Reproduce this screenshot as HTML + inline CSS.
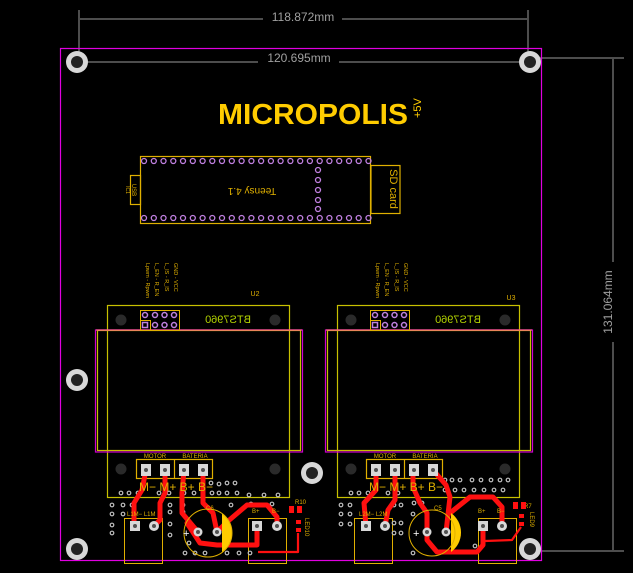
<!DOCTYPE html>
<html><head><meta charset="utf-8"><style>
html,body{margin:0;padding:0;background:#000;}
svg{display:block;}
text{font-family:"Liberation Sans",sans-serif;}
</style></head><body>
<svg width="633" height="573" viewBox="0 0 633 573" xmlns="http://www.w3.org/2000/svg">
<rect width="633" height="573" fill="#000"/>
<!-- dimensions -->
<g stroke="#9a9a9a" stroke-width="1" fill="none">
<line x1="79" y1="10" x2="79" y2="62"/><line x1="528" y1="10" x2="528" y2="62"/>
<line x1="80" y1="19" x2="263" y2="19"/><line x1="342" y1="19" x2="527" y2="19"/>
<line x1="78" y1="62" x2="258" y2="62"/><line x1="339" y1="62" x2="528" y2="62"/>
<line x1="532" y1="58" x2="624" y2="58"/><line x1="532" y1="551" x2="624" y2="551"/>
<line x1="613" y1="59" x2="613" y2="262"/><line x1="613" y1="342" x2="613" y2="550"/>
</g>
<text x="303" y="21" fill="#a0a0a0" font-size="12" text-anchor="middle">118.872mm</text>
<text x="299" y="62" fill="#a0a0a0" font-size="12" text-anchor="middle">120.695mm</text>
<text transform="translate(612,302) rotate(-90)" fill="#a0a0a0" font-size="12" text-anchor="middle">131.064mm</text>
<!-- board outline -->
<rect x="60.5" y="48.5" width="481" height="512" fill="none" stroke="#e000e0" stroke-width="1.2"/>
<!-- mounting holes -->
<g fill="#d8d8d8"><circle cx="77" cy="62" r="11"/><circle cx="530" cy="62" r="11"/><circle cx="77" cy="380" r="11"/><circle cx="312" cy="473" r="11"/><circle cx="77" cy="549" r="11"/><circle cx="530" cy="549" r="11"/></g>
<g fill="#222"><circle cx="77" cy="62" r="6"/><circle cx="530" cy="62" r="6"/><circle cx="77" cy="380" r="6"/><circle cx="312" cy="473" r="6"/><circle cx="77" cy="549" r="6"/><circle cx="530" cy="549" r="6"/></g>
<!-- logo -->
<text x="313" y="124" fill="#ffcc00" font-size="29" font-weight="bold" text-anchor="middle" textLength="190" lengthAdjust="spacingAndGlyphs">MICROPOLIS</text>
<text transform="translate(421,118) rotate(-90)" fill="#ffcc00" font-size="11">+5V</text>
<!-- Teensy -->
<g fill="none" stroke="#e0b000" stroke-width="1.2">
<rect x="140.5" y="156.5" width="230" height="67"/>
<rect x="371" y="165.5" width="29" height="48"/>
<rect x="130.5" y="175.5" width="10" height="29"/>
</g>
<g fill="none" stroke="#c080e0" stroke-width="1.3" id="trow">
<circle cx="144" cy="161" r="2.5"/><circle cx="153.8" cy="161" r="2.5"/><circle cx="163.5" cy="161" r="2.5"/><circle cx="173.3" cy="161" r="2.5"/><circle cx="183" cy="161" r="2.5"/><circle cx="192.8" cy="161" r="2.5"/><circle cx="202.6" cy="161" r="2.5"/><circle cx="212.3" cy="161" r="2.5"/><circle cx="222" cy="161" r="2.5"/><circle cx="231.8" cy="161" r="2.5"/><circle cx="241.6" cy="161" r="2.5"/><circle cx="251.4" cy="161" r="2.5"/><circle cx="261.1" cy="161" r="2.5"/><circle cx="270.9" cy="161" r="2.5"/><circle cx="280.6" cy="161" r="2.5"/><circle cx="290.4" cy="161" r="2.5"/><circle cx="300.2" cy="161" r="2.5"/><circle cx="309.9" cy="161" r="2.5"/><circle cx="319.7" cy="161" r="2.5"/><circle cx="329.4" cy="161" r="2.5"/><circle cx="339.2" cy="161" r="2.5"/><circle cx="349" cy="161" r="2.5"/><circle cx="358.7" cy="161" r="2.5"/><circle cx="368.5" cy="161" r="2.5"/>
</g>
<use href="#trow" y="57"/>
<g fill="none" stroke="#c080e0" stroke-width="1.3">
<circle cx="318" cy="170" r="2.5"/><circle cx="318" cy="180" r="2.5"/><circle cx="318" cy="190" r="2.5"/><circle cx="318" cy="200" r="2.5"/><circle cx="318" cy="209" r="2.5"/>
</g>
<text transform="translate(252,188) rotate(180)" fill="#e0b000" font-size="10" text-anchor="middle">Teensy 4.1</text>
<text transform="translate(390,189) rotate(90)" fill="#e0b000" font-size="11" text-anchor="middle">SD card</text>
<text transform="translate(132,190) rotate(90)" fill="#e0b000" font-size="6" text-anchor="middle">USB</text>
<text transform="translate(126,190) rotate(90)" fill="#e0b000" font-size="5" text-anchor="middle">IC1</text>

<!-- Module U2 -->
<g id="mod">
<rect x="107.5" y="305.5" width="182" height="192" fill="none" stroke="#c8c000" stroke-width="1.2"/>
<rect x="95.5" y="330" width="207" height="122" fill="none" stroke="#d000d0" stroke-width="1.2"/>
<rect x="97.5" y="330.5" width="203" height="120" fill="none" stroke="#c8c000" stroke-width="1.2"/>
<line x1="96" y1="330" x2="302" y2="330" stroke="#ff6090" stroke-width="1.2"/>
<circle cx="121" cy="320" r="5.5" fill="#2a2a2a"/><circle cx="275" cy="320" r="5.5" fill="#2a2a2a"/>
<circle cx="121" cy="469" r="5.5" fill="#2a2a2a"/><circle cx="275" cy="469" r="5.5" fill="#2a2a2a"/>
<rect x="140.5" y="310.5" width="39" height="20" fill="none" stroke="#e0b000" stroke-width="1"/>
<rect x="140.5" y="320.5" width="10" height="10" fill="none" stroke="#e0b000" stroke-width="1"/>
<g fill="none" stroke="#c080e0" stroke-width="1.5"><circle cx="145" cy="315" r="2.5"/><circle cx="155" cy="315" r="2.5"/><circle cx="164.5" cy="315" r="2.5"/><circle cx="174" cy="315" r="2.5"/><circle cx="155" cy="325" r="2.5"/><circle cx="164.5" cy="325" r="2.5"/><circle cx="174" cy="325" r="2.5"/><rect x="142.5" y="322.5" width="5" height="5"/></g>
<text transform="translate(228,323) scale(-1,1)" fill="#b0d000" font-size="11" text-anchor="middle">BTS7960</text>
<g fill="#e0b000" font-size="5.5">
<text transform="translate(146,263) rotate(90)">Lpwm - Rpwm</text>
<text transform="translate(155,263) rotate(90)">L_EN - R_EN</text>
<text transform="translate(165,263) rotate(90)">L_IS - R_IS</text>
<text transform="translate(174,263) rotate(90)">GND - VCC</text>
</g>
<!-- terminal -->
<rect x="136.5" y="459.5" width="76" height="19" fill="none" stroke="#e0b000" stroke-width="1.2"/>
<line x1="174.5" y1="459" x2="174.5" y2="479" stroke="#e0b000" stroke-width="1.2"/>
<text x="155" y="458" fill="#e0b000" font-size="6" text-anchor="middle">MOTOR</text>
<text x="195" y="458" fill="#e0b000" font-size="6" text-anchor="middle">BATERIA</text>
<!-- bottom connectors -->
<rect x="124.5" y="518.5" width="38" height="45" fill="none" stroke="#e0b000" stroke-width="1"/>
<rect x="248.5" y="518.5" width="38" height="45" fill="none" stroke="#e0b000" stroke-width="1"/>
</g>
<use href="#mod" x="230"/>
<text x="255" y="296" fill="#e0b000" font-size="7" text-anchor="middle">U2</text>
<text x="511" y="300" fill="#e0b000" font-size="7" text-anchor="middle">U3</text>

<!-- vias -->
<g fill="none" stroke="#bdbdbd" stroke-width="1.2">
<circle cx="121" cy="493" r="1.8"/><circle cx="129" cy="493" r="1.8"/><circle cx="138" cy="493" r="1.8"/><circle cx="159" cy="493" r="1.8"/><circle cx="169" cy="493" r="1.8"/><circle cx="184" cy="493" r="1.8"/><circle cx="194" cy="493" r="1.8"/><circle cx="212" cy="493" r="1.8"/><circle cx="219" cy="493" r="1.8"/><circle cx="227" cy="493" r="1.8"/><circle cx="237" cy="493" r="1.8"/><circle cx="249" cy="495" r="1.8"/><circle cx="264" cy="495" r="1.8"/><circle cx="278" cy="495" r="1.8"/>
<circle cx="211" cy="483" r="1.8"/><circle cx="219" cy="484" r="1.8"/><circle cx="227" cy="483" r="1.8"/><circle cx="235" cy="483" r="1.8"/>
<circle cx="112" cy="505" r="1.8"/><circle cx="123" cy="505" r="1.8"/><circle cx="132" cy="505" r="1.8"/><circle cx="112" cy="514" r="1.8"/><circle cx="123" cy="514" r="1.8"/><circle cx="112" cy="525" r="1.8"/><circle cx="112" cy="533" r="1.8"/>
<circle cx="170" cy="505" r="1.8"/><circle cx="170" cy="512" r="1.8"/><circle cx="170" cy="524" r="1.8"/><circle cx="170" cy="535" r="1.8"/><circle cx="183" cy="505" r="1.8"/><circle cx="183" cy="512" r="1.8"/>
<circle cx="231" cy="505" r="1.8"/><circle cx="251" cy="504" r="1.8"/><circle cx="272" cy="504" r="1.8"/>
<circle cx="185" cy="553" r="1.8"/><circle cx="195" cy="553" r="1.8"/><circle cx="205" cy="553" r="1.8"/><circle cx="227" cy="553" r="1.8"/><circle cx="239" cy="553" r="1.8"/><circle cx="250" cy="553" r="1.8"/><circle cx="189" cy="543" r="1.8"/>
<circle cx="351" cy="493" r="1.8"/><circle cx="359" cy="493" r="1.8"/><circle cx="368" cy="493" r="1.8"/><circle cx="388" cy="493" r="1.8"/><circle cx="398" cy="493" r="1.8"/><circle cx="445" cy="480" r="1.8"/><circle cx="452" cy="480" r="1.8"/><circle cx="460" cy="480" r="1.8"/><circle cx="472" cy="480" r="1.8"/><circle cx="481" cy="480" r="1.8"/><circle cx="491" cy="480" r="1.8"/><circle cx="500" cy="480" r="1.8"/><circle cx="508" cy="480" r="1.8"/>
<circle cx="445" cy="490" r="1.8"/><circle cx="455" cy="490" r="1.8"/><circle cx="464" cy="490" r="1.8"/><circle cx="474" cy="490" r="1.8"/><circle cx="484" cy="490" r="1.8"/><circle cx="494" cy="490" r="1.8"/><circle cx="503" cy="490" r="1.8"/>
<circle cx="341" cy="505" r="1.8"/><circle cx="350" cy="505" r="1.8"/><circle cx="341" cy="514" r="1.8"/><circle cx="350" cy="514" r="1.8"/><circle cx="341" cy="524" r="1.8"/><circle cx="350" cy="524" r="1.8"/>
<circle cx="394" cy="505" r="1.8"/><circle cx="401" cy="505" r="1.8"/><circle cx="394" cy="523" r="1.8"/><circle cx="401" cy="523" r="1.8"/><circle cx="394" cy="533" r="1.8"/><circle cx="401" cy="533" r="1.8"/>
<circle cx="414" cy="503" r="1.8"/><circle cx="422" cy="503" r="1.8"/><circle cx="413" cy="514" r="1.8"/><circle cx="413" cy="553" r="1.8"/><circle cx="475" cy="546" r="1.8"/><circle cx="483" cy="541" r="1.8"/>
</g>

<!-- traces -->
<g fill="none" stroke="#ff1010" stroke-width="5" stroke-linejoin="round" stroke-linecap="round">
<polyline points="146,470 142,490 134,503 134,526"/>
<polyline points="165,470 165,493 160,503 160,520 154,526"/>
<polyline points="184,470 182,493 182,513 198,532"/>
<polyline points="187,523 200,543 217,545 257,545 257,527"/>
<polyline points="203,470 203,503 213,513 217,532"/>
<polyline points="217,532 227,522 247,505 267,505 277,517 277,526"/>
<polyline points="376,470 376,490 364,503 366,526"/>
<polyline points="395,470 395,500 388,510 385,526"/>
<polyline points="413,470 413,487 420,503 427,513 427,540 437,552 477,552 483,545 483,526"/>
<polyline points="433,470 446,485 450,497 446,532"/>
<polyline points="450,513 470,497 493,497 502,507 502,526"/>
</g>
<g fill="none" stroke="#ff1010" stroke-width="2.2" stroke-linejoin="round">
<polyline points="258,552 298,552 298,533"/>
<polyline points="521,527 512,540 485,541"/>
</g>
<!-- pads -->
<g fill="#d8d8d8">
<rect x="141" y="464" width="10" height="12"/><rect x="160" y="464" width="10" height="12"/><rect x="179" y="464" width="10" height="12"/><rect x="198" y="464" width="10" height="12"/>
<rect x="371" y="464" width="10" height="12"/><rect x="390" y="464" width="10" height="12"/><rect x="409" y="464" width="10" height="12"/><rect x="428" y="464" width="10" height="12"/>
<rect x="130" y="521" width="10" height="10"/><rect x="252" y="521" width="10" height="10"/><rect x="361" y="521" width="10" height="10"/><rect x="478" y="521" width="10" height="10"/>
<circle cx="154" cy="526" r="5"/><circle cx="277" cy="526" r="5"/><circle cx="385" cy="526" r="5"/><circle cx="502" cy="526" r="5"/>
<circle cx="198" cy="532" r="4.5"/><circle cx="217" cy="532" r="4.5"/><circle cx="427" cy="532" r="4.5"/><circle cx="446" cy="532" r="4.5"/>
</g>
<g fill="#505050"><circle cx="146" cy="470" r="2"/><circle cx="165" cy="470" r="2"/><circle cx="184" cy="470" r="2"/><circle cx="203" cy="470" r="2"/><circle cx="376" cy="470" r="2"/><circle cx="395" cy="470" r="2"/><circle cx="414" cy="470" r="2"/><circle cx="433" cy="470" r="2"/><circle cx="135" cy="526" r="2"/><circle cx="154" cy="526" r="2"/><circle cx="257" cy="526" r="2"/><circle cx="277" cy="526" r="2"/><circle cx="366" cy="526" r="2"/><circle cx="385" cy="526" r="2"/><circle cx="483" cy="526" r="2"/><circle cx="502" cy="526" r="2"/><circle cx="198" cy="532" r="2"/><circle cx="217" cy="532" r="2"/><circle cx="427" cy="532" r="2"/><circle cx="446" cy="532" r="2"/></g>
<!-- caps -->
<path d="M222,513 A24,24 0 0 1 222,552 Z" fill="#ffcc00"/>
<path d="M451,513 A24,24 0 0 1 451,552 Z" fill="#ffcc00"/>
<circle cx="208" cy="533" r="24" fill="none" stroke="#e0b000" stroke-width="1"/>
<circle cx="432" cy="533" r="23" fill="none" stroke="#e0b000" stroke-width="1"/>
<g fill="#fff" font-size="11"><text x="183" y="537">+</text><text x="413" y="537">+</text></g>
<!-- silkscreen labels -->
<g fill="#e0b000" font-size="12">
<text x="139" y="491">M− M+ B+ B−</text>
<text x="369" y="491">M− M+ B+ B−</text>
</g>
<g fill="#e0b000" font-size="6">
<text x="127" y="516">L1M−  L1M</text><text x="359" y="516">L2M−  L2M</text>
<text x="206" y="510">C6</text><text x="434" y="510">C5</text>
<text x="252" y="513">B+</text><text x="272" y="513">B−</text>
<text x="478" y="513">B+</text><text x="497" y="513">B−</text>
<text x="295" y="504">R10</text><text x="524" y="508">R7</text>
<text transform="translate(305,518) rotate(90)">LED10</text>
<text transform="translate(530,512) rotate(90)">LED9</text>
</g>
<g fill="#ff1010"><rect x="289" y="506" width="5" height="7"/><rect x="297" y="506" width="5" height="7"/><rect x="513" y="502" width="5" height="7"/><rect x="521" y="502" width="5" height="7"/><rect x="296" y="520" width="5" height="4"/><rect x="296" y="528" width="5" height="4"/><rect x="519" y="514" width="5" height="4"/><rect x="519" y="522" width="5" height="4"/></g>
</svg>
</body></html>
